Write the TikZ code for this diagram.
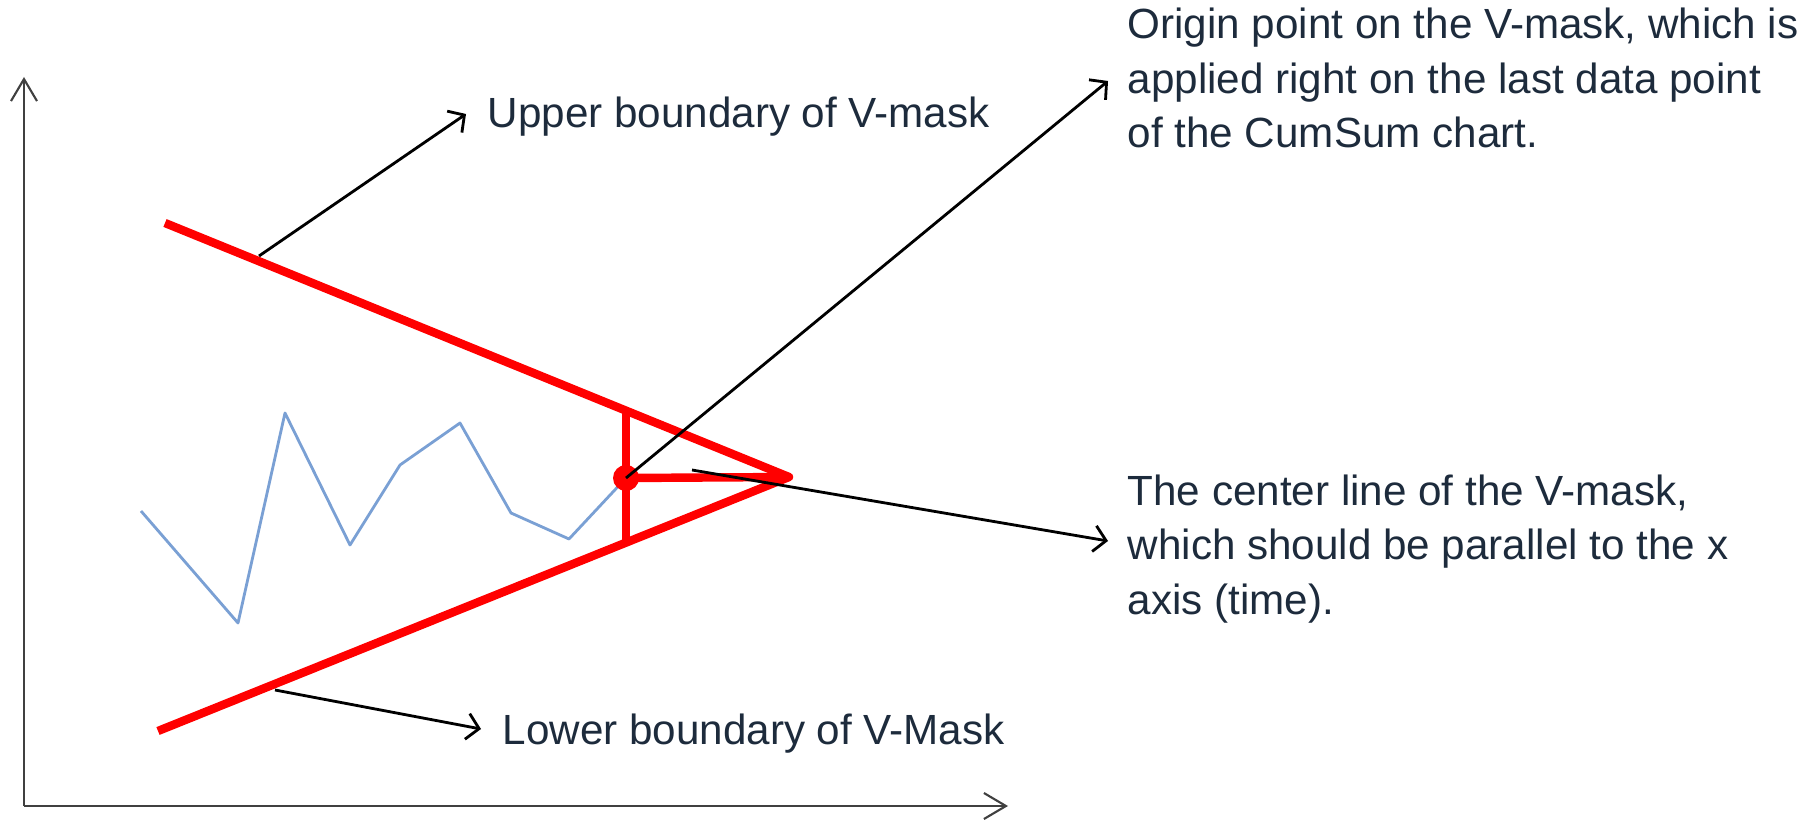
\documentclass[tikz,border=0pt]{standalone}
\usepackage{fontspec}
\setmainfont{Liberation Sans}
\usetikzlibrary{positioning,calc,arrows.meta}
\definecolor{maskred}{RGB}{255,0,0}
\definecolor{cusumblue}{RGB}{122,160,212}
\definecolor{notetext}{RGB}{29,43,60}
\definecolor{axisgray}{RGB}{64,64,64}
\tikzset{ARROW/.style={line width=0.8pt, -{Straight Barb[length=1.2mm,width=2.6mm]}}}
\tikzset{AXIS/.style={line width=0.6pt, draw=axisgray, -{Straight Barb[length=2.2mm,width=2.6mm]}}}
\tikzset{MASK/.style={draw=maskred, line width=2.4pt, line join=round}}
\tikzset{NOTE/.style={inner sep=0pt, text=notetext, align=left, font=\fontsize{12}{15.4}\selectfont}}

\begin{document}
\begin{tikzpicture}[x=0.01cm, y=-0.01cm]
    \useasboundingbox (0,0) rectangle (1819,822);

    % axes
    \coordinate (origin) at (24,806);
    \coordinate (y_end) at (24,77);
    \coordinate (x_end) at (1008,806);
    \draw[AXIS] (origin) -- (y_end);
    \draw[AXIS] (origin) -- (x_end);

    % cusum data
    \draw[cusumblue, line width=0.8pt, line join=round] (141,511) -- (238,623) -- (285,413) -- (350,545) -- (400,465) -- (460,423) -- (511,513) -- (569,539) -- (626,478);

    % v-mask
    \coordinate (vertex) at (789,477);
    \coordinate (upper_start) at (165,223);
    \coordinate (lower_start) at (158,731);
    \coordinate (n_point) at (626,478);
    \coordinate (rise_top) at (626,411);
    \coordinate (rise_bottom) at (626,543);
    \draw[MASK] (upper_start) -- (vertex) -- (lower_start);
    \draw[MASK] (rise_top) -- (rise_bottom);
    \draw[MASK] (n_point) -- (vertex);
    \fill[maskred] (n_point) circle[radius=1.3mm];

    \node[NOTE, anchor=base west] (n_upper) at (487,128) {Upper boundary of V-mask};
    \node[NOTE, anchor=base west] (n_lower) at (502,744) {Lower boundary of V-Mask};
    \node[NOTE, anchor=west] (n_origin) at (1127,78) {Origin point on the V-mask, which is\\applied right on the last data point\\of the CumSum chart.};
    \node[NOTE, anchor=west] (n_center) at (1127,549) {The center line of the V-mask,\\which should be parallel to the x\\axis (time).};

    \coordinate (upper_foot) at (259,256);
    \coordinate (upper_tip) at (466,114);
    \draw[ARROW] (upper_foot) -- (upper_tip);

    \coordinate (lower_foot) at (275,690);
    \coordinate (lower_tip) at (481,729);
    \draw[ARROW] (lower_foot) -- (lower_tip);

    \coordinate (origin_tip) at (1108,81);
    \draw[ARROW] (n_point) -- (origin_tip);

    \coordinate (center_foot) at (692,470);
    \coordinate (center_tip) at (1108,541);
    \draw[ARROW] (center_foot) -- (center_tip);

\end{tikzpicture}
\end{document}
